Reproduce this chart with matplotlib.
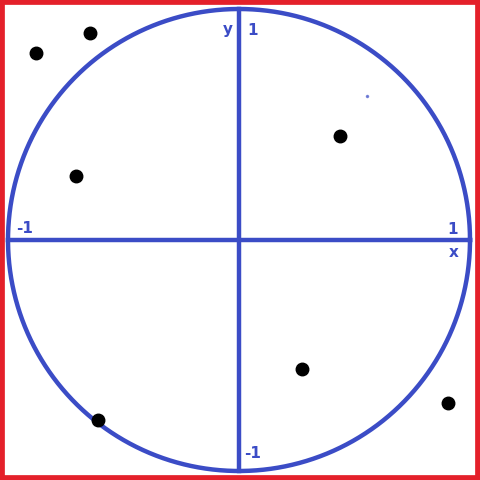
import matplotlib.pyplot as plt
import matplotlib.patches as patches
import numpy as np

# points scattered around the unit circle
px = [-0.88, -0.645, -0.705, 0.437, 0.273, 0.905, -0.61]
py = [0.81, 0.896, 0.277, 0.45, -0.558, -0.706, -0.779]
speck = (0.554, 0.623)

blue = '#3b4cc6'
red = '#e4202a'

fig = plt.figure(figsize=(4.8, 4.8), dpi=100)
ax = fig.add_axes([0, 0, 1, 1])
ax.set_xlim(-239 / 231, 241 / 231)
ax.set_ylim(-240 / 231, 240 / 231)
ax.axis('off')

t = np.linspace(0, 2 * np.pi, 400)
ax.plot(np.cos(t), np.sin(t), color=blue, lw=3.2, zorder=2)
ax.plot([-1, 1], [0, 0], color=blue, lw=3.2, zorder=2)
ax.plot([0, 0], [-1, 1], color=blue, lw=3.2, zorder=2)

ax.plot(px, py, 'o', color='black', markersize=9, zorder=3)
ax.plot(*speck, 'o', color=blue, markersize=1.5, alpha=0.6, zorder=3)

kw = dict(color=blue, fontsize=11, fontweight='bold', ha='center', va='center')
ax.text(-0.05, 0.91, 'y', **kw)
ax.text(0.06, 0.905, '1', **kw)
ax.text(-0.93, 0.05, '-1', **kw)
ax.text(0.925, 0.045, '1', **kw)
ax.text(0.93, -0.055, 'x', **kw)
ax.text(0.06, -0.925, '-1', **kw)

fig.patches.append(patches.Rectangle((0, 0), 1, 1, transform=fig.transFigure,
                                     fill=False, edgecolor=red, linewidth=7, zorder=5))

fig.savefig('out.png', dpi=100)
